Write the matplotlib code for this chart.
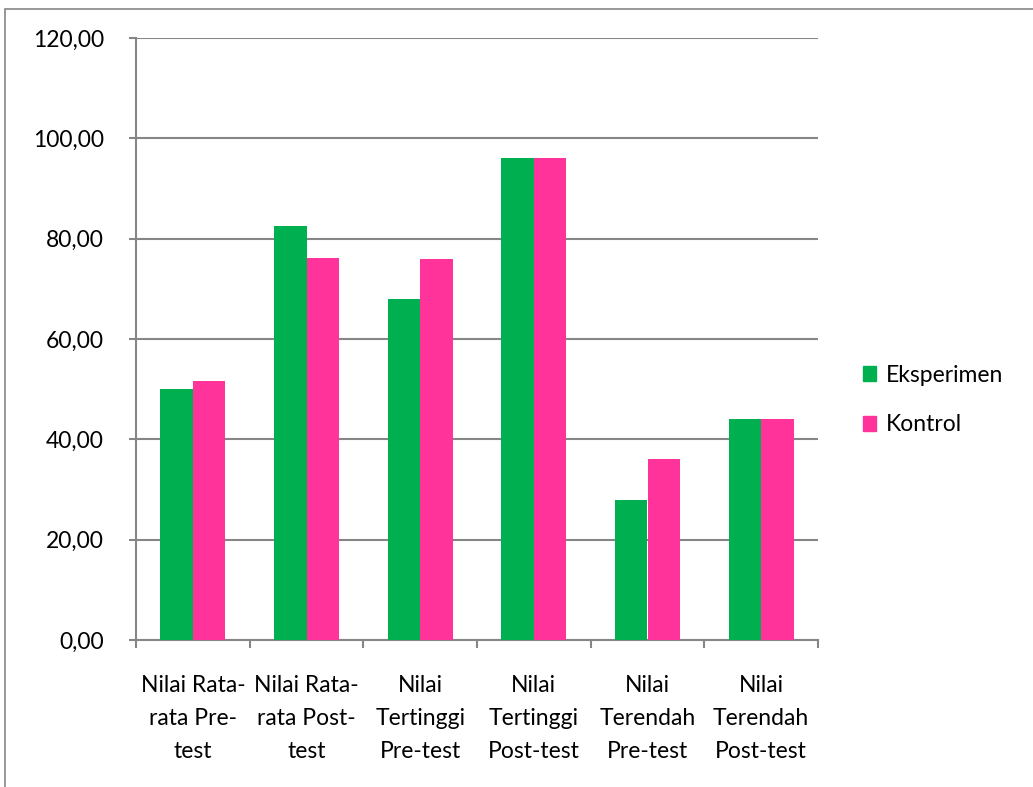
import matplotlib
matplotlib.use("Agg")
import matplotlib.pyplot as plt
from matplotlib.patches import Rectangle, Patch
import numpy as np

categories = [
    "Nilai Rata-\nrata Pre-\ntest",
    "Nilai Rata-\nrata Post-\ntest",
    "Nilai\nTertinggi\nPre-test",
    "Nilai\nTertinggi\nPost-test",
    "Nilai\nTerendah\nPre-test",
    "Nilai\nTerendah\nPost-test",
]
eksperimen = [50.0, 82.5, 68.0, 96.0, 28.0, 44.0]
kontrol = [51.6, 76.2, 76.0, 96.0, 36.0, 44.0]
yticks = [0, 20, 40, 60, 80, 100, 120]

green = "#00B050"
pink = "#FF3399"
grid_c = "#868686"
fs = 16.5

plt.rcParams["font.family"] = ["Lato", "DejaVu Sans"]

W, H = 1033, 787
fig = plt.figure(figsize=(W / 100, H / 100), dpi=100)
ax = fig.add_axes([136 / W, 1 - 640 / H, (818 - 136) / W, (640 - 38) / H])

x = np.arange(len(categories))
bw = 1 / 3.5
ax.bar(x - bw / 2, eksperimen, width=bw, color=green, label="Eksperimen", zorder=3)
ax.bar(x + bw / 2, kontrol, width=bw, color=pink, label="Kontrol", zorder=3)

ax.set_xlim(-0.5, len(categories) - 0.5)
ax.set_ylim(0, 120)
ax.set_yticks(yticks)
ax.set_yticklabels([f"{v:.2f}".replace(".", ",") for v in yticks], fontsize=fs)
ax.yaxis.grid(True, color=grid_c, linewidth=1.5, zorder=0)
ax.tick_params(axis="y", length=5, width=1.5, color=grid_c, pad=18)

# category labels between boundary ticks
ax.set_xticks(np.arange(-0.5, len(categories)), minor=False)
ax.set_xticklabels([])
ax.tick_params(axis="x", which="major", length=6, width=1.5, color=grid_c)
ax.set_xticks(x, minor=True)
ax.set_xticklabels(categories, minor=True, fontsize=fs, linespacing=1.72)
ax.tick_params(axis="x", which="minor", length=0, pad=25)

for s in ["top", "right"]:
    ax.spines[s].set_visible(False)
for s in ["left", "bottom"]:
    ax.spines[s].set_color(grid_c)
    ax.spines[s].set_linewidth(1.5)

handles = [Patch(color=green, label="Eksperimen"), Patch(color=pink, label="Kontrol")]
fig.legend(handles=handles, loc="center left", bbox_to_anchor=(842 / W, 1 - 400 / H),
           frameon=False, fontsize=fs, handlelength=0.6, handleheight=0.6,
           handletextpad=0.4, labelspacing=1.25)

# outer chart frame
fig.add_artist(Rectangle((5 / W, -0.1), 1.2, 1 - 9 / H + 0.1, transform=fig.transFigure,
                         fill=False, edgecolor=grid_c, linewidth=1.2))

fig.savefig("out.png", dpi=100)
